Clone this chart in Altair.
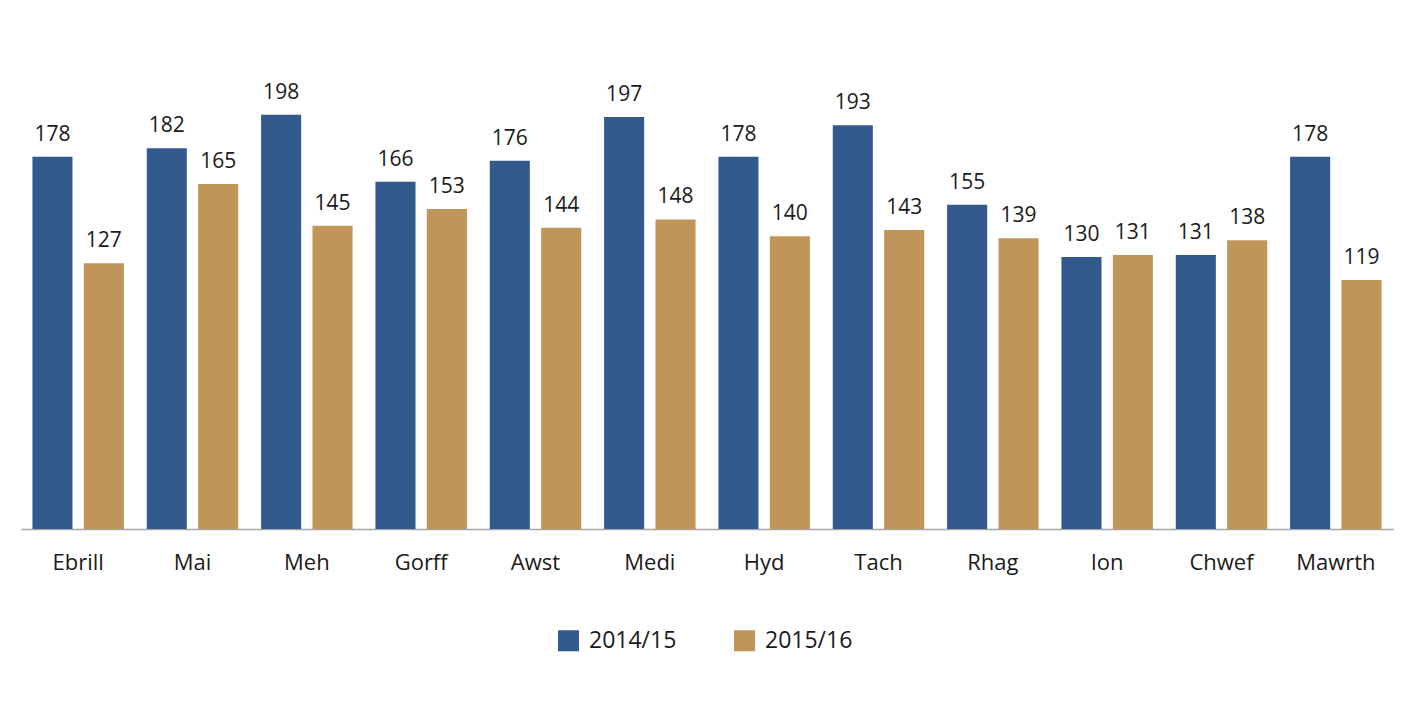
import altair as alt
import pandas as pd

months = ["Ebrill", "Mai", "Meh", "Gorff", "Awst", "Medi", "Hyd", "Tach", "Rhag", "Ion", "Chwef", "Mawrth"]
series = ["2014/15", "2015/16"]
values_1415 = [178, 182, 198, 166, 176, 197, 178, 193, 155, 130, 131, 178]
values_1516 = [127, 165, 145, 153, 144, 148, 140, 143, 139, 131, 138, 119]
colors = ["#325a8c", "#bf955a"]

rows = []
for m, a, b in zip(months, values_1415, values_1516):
    rows.append({"month": m, "series": series[0], "value": a})
    rows.append({"month": m, "series": series[1], "value": b})
df = pd.DataFrame(rows)

FONT = "Open Sans"
TXT = "#1a1a1a"

base = alt.Chart(df).encode(
    x=alt.X(
        "month:N",
        sort=months,
        scale=alt.Scale(paddingInner=0.2, paddingOuter=0.1),
        axis=alt.Axis(
            title=None, labelAngle=0, ticks=False, grid=False,
            labelFontSize=22, labelFont=FONT, labelColor=TXT, labelPadding=23,
            domainColor="#a6a6a6", domainWidth=1.5,
        ),
    ),
    xOffset=alt.XOffset("series:N", sort=series, scale=alt.Scale(paddingInner=0.22, paddingOuter=0)),
    y=alt.Y("value:Q", scale=alt.Scale(domain=[0, 240]), axis=None),
)

bars = base.mark_bar().encode(
    color=alt.Color(
        "series:N",
        sort=series,
        scale=alt.Scale(domain=series, range=colors),
        legend=alt.Legend(
            title=None, orient="none", direction="horizontal",
            legendX=536, legendY=602, padding=0,
            symbolType="square", symbolSize=441, symbolStrokeWidth=0,
            labelFontSize=23, labelFont=FONT, labelColor=TXT,
            labelOffset=9, columnPadding=56,
        ),
    )
)

text = base.mark_text(
    baseline="alphabetic", dy=-16, fontSize=21, font=FONT, color=TXT
).encode(text="value:Q")

chart = (
    alt.layer(bars, text)
    .properties(width=1372, height=502, padding={"left": 13, "top": 19, "right": 5, "bottom": 5})
    .configure(background="#ffffff")
    .configure_view(stroke=None)
)

chart.save("out.html", embed_options={"renderer": "svg", "actions": False})
